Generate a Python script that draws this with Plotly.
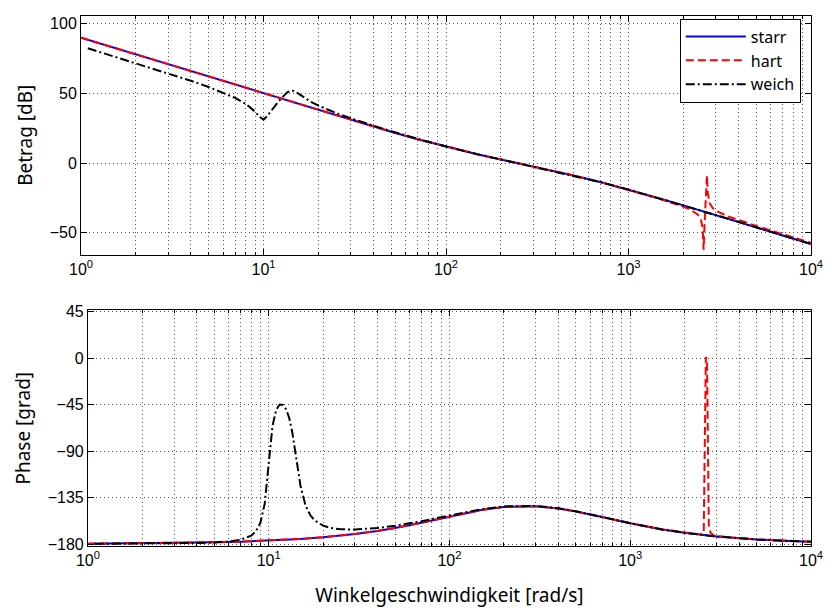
import plotly.graph_objects as go

# Frequency grids [rad/s]
w_starr = [1, 1.5, 2, 3, 4, 5, 7, 10, 15, 20, 30, 40, 50, 70, 100, 150, 200, 300,
           400, 500, 700, 1000, 1500, 2000, 3000, 4000, 5000, 7000, 10000]
w_hart = [1, 1.5, 2, 3, 4, 5, 7, 10, 15, 20, 30, 40, 50, 70, 100, 150, 200, 300,
          400, 500, 700, 1000, 1500, 2000, 2200, 2400, 2500, 2550, 2580, 2620, 2660,
          2690, 2720, 2780, 2900, 3000, 3500, 4000, 5000, 7000, 10000]
w_weich = [1.09, 1.5, 2, 3, 4, 5, 6, 7, 8, 8.5, 9, 9.5, 10, 10.5, 11, 11.5, 12, 12.5,
           13, 13.5, 14, 14.5, 15, 16, 17, 18, 20, 22, 25, 30, 40, 50, 70, 100, 150,
           200, 300, 400, 500, 700, 1000, 1500, 2000, 3000, 4000, 5000, 7000, 10000]

# Magnitude [dB]
mag_starr = [90.0, 82.96, 77.96, 70.92, 65.92, 62.05, 56.21, 50.02, 43.01, 38.05, 31.13,
             26.29, 22.60, 17.23, 11.86, 6.29, 2.63, -2.32, -5.90, -8.82, -13.52, -18.93,
             -25.46, -30.26, -37.16, -42.10, -45.97, -51.79, -57.97]
mag_hart = [90.0, 82.96, 77.96, 70.92, 65.92, 62.05, 56.21, 50.02, 43.01, 38.05, 31.13,
            26.29, 22.60, 17.23, 11.86, 6.29, 2.63, -2.32, -5.90, -8.82, -13.58, -19.05,
            -25.81, -31.2, -33.55, -36.9, -41.0, -47.2, -62.0, -39.2, -26.0, -8.8, -21.5,
            -28.5, -32.4, -33.97, -38.14, -40.82, -44.97, -50.94, -57.19]
mag_weich = [82.43, 76.84, 71.76, 64.48, 59.11, 54.69, 50.72, 46.81, 42.52, 39.98, 36.94,
             33.37, 31.27, 33.88, 37.68, 40.99, 43.86, 46.46, 48.84, 50.81, 51.99, 52.03,
             51.19, 48.68, 46.34, 44.37, 41.27, 38.86, 35.97, 32.24, 26.87, 22.96, 17.41,
             11.95, 6.33, 2.65, -2.31, -5.89, -8.82, -13.52, -18.93, -25.46, -30.26,
             -37.16, -42.10, -45.97, -51.79, -57.97]

# Phase [grad]
ph_starr = [-179.67, -179.50, -179.34, -179.01, -178.68, -178.35, -177.69, -176.70,
            -175.07, -173.45, -170.31, -167.30, -164.45, -159.37, -153.32, -146.98,
            -144.06, -143.41, -145.57, -148.46, -153.92, -159.94, -165.84, -169.14,
            -172.65, -174.45, -175.55, -176.81, -177.76]
ph_hart = [-179.67, -179.50, -179.34, -179.01, -178.68, -178.35, -177.69, -176.70,
           -175.07, -173.45, -170.31, -167.30, -164.45, -159.37, -153.32, -146.98,
           -144.06, -143.41, -145.57, -148.46, -153.92, -159.94, -165.84, -169.14,
           -170.0, -170.8, -171.0, -169.5, -84.0, 1.0, -2.0, -82.0, -162.0, -169.0,
           -171.7, -172.3, -173.6, -174.3, -175.5, -176.8, -177.76]
ph_weich = [-179.77, -179.67, -179.56, -179.29, -178.93, -178.40, -177.51, -175.81,
            -171.88, -167.68, -159.48, -141.17, -102.49, -65.72, -50.03, -45.02, -45.39,
            -49.76, -58.33, -71.77, -89.56, -108.23, -123.77, -142.83, -152.20, -157.28,
            -162.23, -164.39, -165.69, -165.98, -164.51, -162.36, -157.96, -152.36,
            -146.35, -143.59, -143.10, -145.4, -148.35, -153.85, -159.9, -165.84,
            -169.14, -172.65, -174.45, -175.55, -176.81, -177.76]

# Axis ticks
decade_vals = [1, 10, 100, 1000, 10000]
decade_text = ["10<sup>0</sup>", "10<sup>1</sup>", "10<sup>2</sup>", "10<sup>3</sup>", "10<sup>4</sup>"]
minor_vals = [m * d for d in [1, 10, 100, 1000] for m in range(2, 10)]
mag_ticks = [-50, 0, 50, 100]
phase_ticks = [-180, -135, -90, -45, 0, 45]

series = [
    ("starr", w_starr, mag_starr, ph_starr, "#0000ff", "solid"),
    ("hart", w_hart, mag_hart, ph_hart, "#ff0000", "8px,4px"),
    ("weich", w_weich, mag_weich, ph_weich, "#000000", "9px,3px,2px,3px"),
]

fig = go.Figure()
for name, w, mag, ph, color, dash in series:
    fig.add_trace(go.Scatter(x=w, y=mag, mode="lines", name=name, legendgroup=name,
                             line=dict(color=color, width=2, dash=dash),
                             xaxis="x", yaxis="y"))
for name, w, mag, ph, color, dash in series:
    fig.add_trace(go.Scatter(x=w, y=ph, mode="lines", name=name, legendgroup=name,
                             showlegend=False,
                             line=dict(color=color, width=2, dash=dash),
                             xaxis="x2", yaxis="y2"))

TICK_FONT = dict(family="Liberation Sans, Arial, sans-serif", size=16, color="black")
TITLE_FONT = dict(family="Noto Sans, sans-serif", size=19, color="black")
GRID = dict(showgrid=True, gridcolor="#555555", gridwidth=1, griddash="1px,3px")

common_x = dict(type="log", range=[0, 4], tickmode="array", tickvals=decade_vals,
                ticktext=decade_text, ticks="inside", ticklen=6, tickcolor="black",
                showline=True, linecolor="black", linewidth=1, mirror="allticks",
                tickfont=TICK_FONT, zeroline=False,
                minor=dict(tickmode="array", tickvals=minor_vals, ticks="inside",
                           ticklen=3, tickcolor="black", showgrid=True,
                           gridcolor="#555555", gridwidth=1, griddash="1px,3px"),
                **GRID)
common_y = dict(ticks="inside", ticklen=6, tickcolor="black", showline=True,
                linecolor="black", linewidth=1, mirror="allticks", tickfont=TICK_FONT,
                zeroline=False, tickmode="array", **GRID)

fig.update_layout(
    width=832, height=612,
    margin=dict(l=81, r=13, t=9, b=63),
    paper_bgcolor="white", plot_bgcolor="white",
    showlegend=True,
    xaxis=dict(domain=[0, 1], anchor="y", **common_x),
    yaxis=dict(domain=[0.55, 1.0], anchor="x", range=[-65.5, 105.6], tickvals=mag_ticks,
               title=dict(text="Betrag [dB]", font=TITLE_FONT, standoff=12), **common_y),
    xaxis2=dict(domain=[7 / 738, 1], anchor="y2",
                title=dict(text="Winkelgeschwindigkeit [rad/s]", font=TITLE_FONT, standoff=20),
                **common_x),
    yaxis2=dict(domain=[0, 0.4444], anchor="x2", range=[-181.9, 46], tickvals=phase_ticks,
                title=dict(text="Phase [grad]", font=TITLE_FONT, standoff=12), **common_y),
    legend=dict(x=0.986, xanchor="right", y=0.995, yanchor="top",
                bgcolor="white", bordercolor="black", borderwidth=1,
                font=dict(family="Noto Sans, sans-serif", size=16, color="black"),
                tracegroupgap=0, itemwidth=60),
)

fig.write_html("out.html")
